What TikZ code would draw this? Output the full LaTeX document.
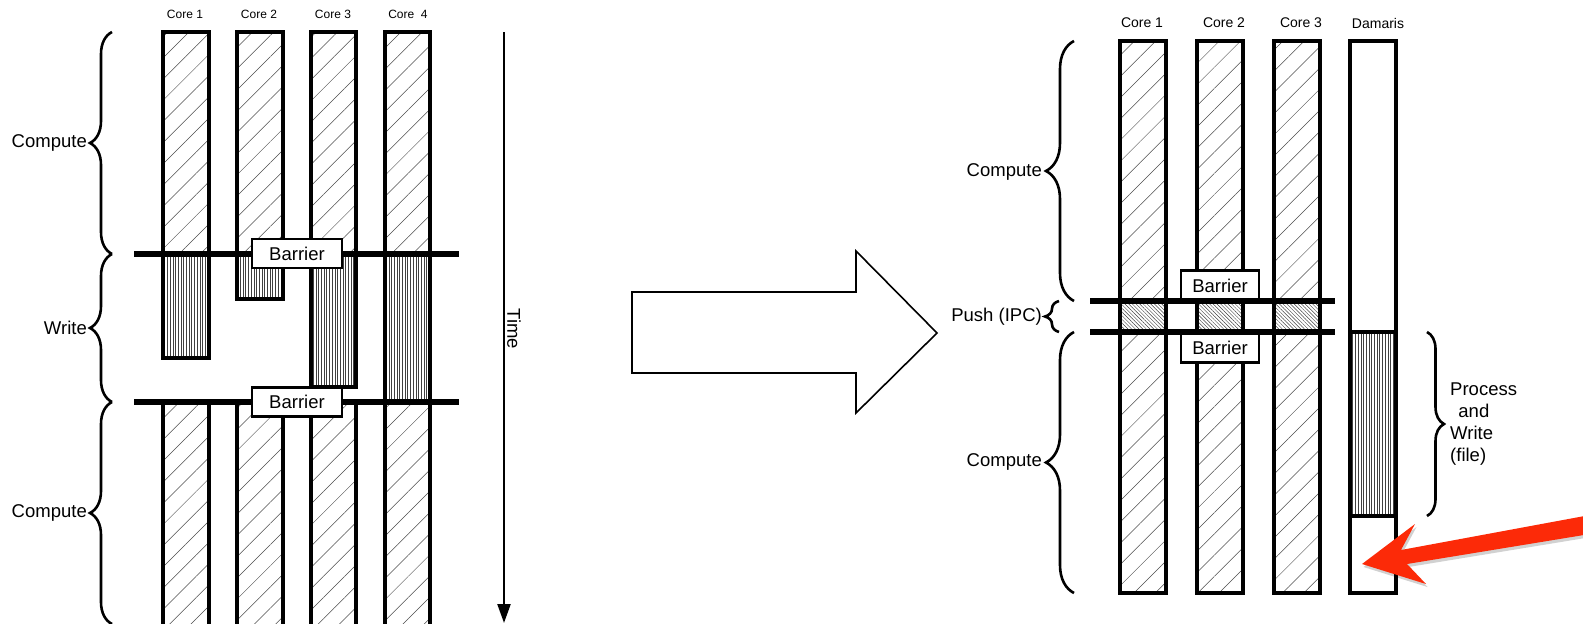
\documentclass[tikz,border=0pt]{standalone}
\usepackage{fontspec}
\setmainfont{Liberation Sans}
\usetikzlibrary{patterns.meta,decorations.pathreplacing,arrows.meta}
\definecolor{arrowred}{RGB}{252,42,8}

\begin{document}
\begin{tikzpicture}[x=1pt,y=-1pt,
  lbl/.style={font=\fontsize{18.5}{21.7}\selectfont, inner sep=0pt},
  corelbl/.style={font=\fontsize{12}{14}\selectfont, inner sep=0pt},
  corelblR/.style={font=\fontsize{14}{16}\selectfont, inner sep=0pt},
  computefill/.style={pattern={Lines[angle=45,distance=15pt,line width=0.5pt]}, pattern color=black!70},
  writefill/.style={pattern={Lines[angle=90,distance=2.7pt,line width=0.45pt]}, pattern color=black!75},
  pushfill/.style={pattern={Lines[angle=-45,distance=2.6pt,line width=0.45pt]}, pattern color=black!75},
  barline/.style={line width=3.2pt},
  barrierline/.style={line width=5.5pt},
  barrierbox/.style={draw, line width=2.6pt, fill=white, inner sep=0pt,
    font=\fontsize{18.5}{22}\selectfont},
  bracel/.style={decorate, decoration={brace, amplitude=#1}, line width=2.6pt},
]
\useasboundingbox (0,0) rectangle (1583,624);

% ---------------- left: synchronous I/O ----------------
\foreach \xa/\xb/\wend in {163/209/358, 237/283/299, 311/356/387, 385/430/402} {
  \fill[computefill] (\xa,32) rectangle (\xb,254);
  \fill[writefill] (\xa,254) rectangle (\xb,\wend);
  \draw[barline] (\xa,32) rectangle (\xb,\wend);
  \fill[computefill] (\xa,402) rectangle (\xb,640);
  \draw[barline] (\xa,402) rectangle (\xb,640);
}
\node[corelbl] (lc1) at (185,14) {Core 1};
\node[corelbl] (lc2) at (259,14) {Core 2};
\node[corelbl] (lc3) at (333,14) {Core 3};
\node[corelbl] (lc4) at (408,14) {Core\ \ 4};

\coordinate (lb1w) at (134,254); \coordinate (lb1e) at (459,254);
\coordinate (lb2w) at (134,402); \coordinate (lb2e) at (459,402);
\draw[barrierline] (lb1w) -- (lb1e);
\draw[barrierline] (lb2w) -- (lb2e);
\node[barrierbox, minimum width=90pt, minimum height=29pt] (lbar1) at (297,253.5) {Barrier};
\node[barrierbox, minimum width=90pt, minimum height=29pt] (lbar2) at (297,402) {Barrier};

% phase braces
\coordinate (lbr0) at (112,32);
\coordinate (lbr1) at (112,254);
\coordinate (lbr2) at (112,402);
\coordinate (lbr3) at (112,624);
\draw[bracel=22pt] (lbr1) -- (lbr0);
\draw[bracel=22pt] (lbr2) -- (lbr1);
\draw[bracel=22pt] (lbr3) -- (lbr2);
\node[lbl, anchor=east] (lcomp1) at (87,143) {Compute};
\node[lbl, anchor=east] (lwrite) at (87,328) {Write};
\node[lbl, anchor=east] (lcomp2) at (87,513) {Compute};

% time axis
\coordinate (t0) at (504,32);
\coordinate (t1) at (504,623);
\draw[line width=2.3pt, -{Triangle[width=13pt,length=19pt]}] (t0) -- (t1);
\node[lbl, rotate=-90] (time) at (514,329) {Time};

% ---------------- transition arrow ----------------
\draw[line width=1.6pt, line join=miter]
  (632,292) -- (856,292) -- (856,251) -- (937,333) -- (856,413) -- (856,373) -- (632,373) -- cycle;

% ---------------- right: with a dedicated core ----------------
\foreach \xa/\xb in {1120/1166, 1197/1243, 1274/1320} {
  \fill[computefill] (\xa,41) rectangle (\xb,301);
  \fill[pushfill] (\xa,301) rectangle (\xb,332);
  \fill[computefill] (\xa,332) rectangle (\xb,593);
  \draw[barline] (\xa,41) rectangle (\xb,593);
}
\fill[writefill] (1350,332) rectangle (1396,516);
\draw[barline] (1350,41) rectangle (1396,593);
\draw[barline] (1350,332) -- (1396,332);
\draw[barline] (1350,516) -- (1396,516);

\node[corelblR] (rc1) at (1142,23) {Core 1};
\node[corelblR] (rc2) at (1224,23) {Core 2};
\node[corelblR] (rc3) at (1301,23) {Core 3};
\node[corelblR] (rdm) at (1378,23) {Damaris};

\node[barrierbox, minimum width=78pt, minimum height=30pt] (rbar1) at (1220,285.5) {Barrier};
\node[barrierbox, minimum width=78pt, minimum height=30pt] (rbar2) at (1220,347.5) {Barrier};
\coordinate (rb1w) at (1090,301); \coordinate (rb1e) at (1335,301);
\coordinate (rb2w) at (1090,332); \coordinate (rb2e) at (1335,332);
\draw[barrierline] (rb1w) -- (rb1e);
\draw[barrierline] (rb2w) -- (rb2e);

\coordinate (rbr0) at (1074,41);
\coordinate (rbr1) at (1074,301);
\coordinate (rbr2) at (1074,332);
\coordinate (rbr3) at (1074,593);
\coordinate (pbr1) at (1059,301);
\coordinate (pbr2) at (1059,332);
\draw[bracel=28pt] (rbr1) -- (rbr0);
\draw[bracel=14pt] (pbr2) -- (pbr1);
\draw[bracel=28pt] (rbr3) -- (rbr2);
\node[lbl, anchor=east] (rcomp1) at (1042,172) {Compute};
\node[lbl, anchor=east] (rpush) at (1042,317) {Push (IPC)};
\node[lbl, anchor=east] (rcomp2) at (1042,462) {Compute};

\coordinate (dbr0) at (1427,332);
\coordinate (dbr1) at (1427,516);
\draw[bracel=17pt] (dbr0) -- (dbr1);
\node[lbl, anchor=west, align=left] (rproc) at (1450,424) {Process\\\ \,and\\Write\\(file)};

% highlight arrow
\fill[black, opacity=0.18, shift={(1.5,3)}]
  (1590,515) -- (1401,550) -- (1415,524) -- (1362,564) -- (1426,584) -- (1407,564) -- (1590,534) -- cycle;
\fill[arrowred]
  (1590,515) -- (1401,550) -- (1415,524) -- (1362,564) -- (1426,584) -- (1407,564) -- (1590,534) -- cycle;
\end{tikzpicture}
\end{document}
